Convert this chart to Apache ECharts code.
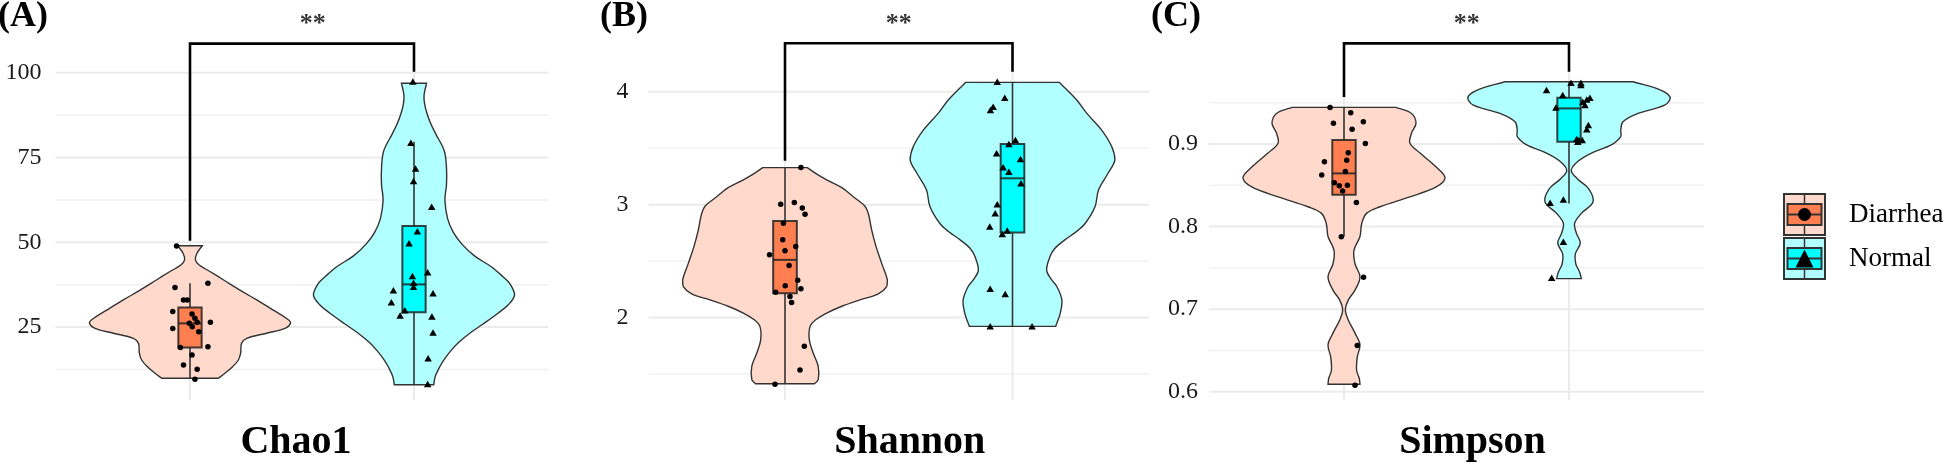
<!DOCTYPE html>
<html><head><meta charset="utf-8">
<script src="https://cdn.jsdelivr.net/npm/echarts@6/dist/echarts.min.js"></script>
<style>html,body{margin:0;padding:0;background:#fff}#c{width:1945px;height:468px}</style>
</head><body><div id="c"></div>
<script>
// ---------- data ----------
const groups = ['Diarrhea', 'Normal'];
const metrics = ['Chao1', 'Shannon', 'Simpson'];
const panelTags = ['(A)', '(B)', '(C)'];
const sigText = '**';

// Chao1
const chao1Ticks = [25, 50, 75, 100];
const chao1Minor = [12.5, 37.5, 62.5, 87.5];
const chao1DiarrheaPts = [[0.940,48.9],[0.933,36.7],[1.080,37.9],[0.971,33.0],[0.988,33.0],[0.923,29.6],[1.009,28.9],[1.022,27.6],[1.091,26.4],[0.997,26.1],[1.032,26.4],[1.010,25.1],[1.039,23.6],[0.923,24.6],[0.957,19.0],[1.080,19.2],[1.009,16.8],[0.971,13.8],[1.032,12.6],[1.022,9.6]];
const chao1NormalPts = [[1.995,97.4],[1.986,79.4],[2.007,71.8],[1.998,68.1],[2.079,60.5],[2.015,53.3],[1.978,49.7],[2.061,41.2],[1.993,40.1],[1.998,38.1],[1.998,36.9],[1.908,35.9],[2.085,35.0],[1.899,32.3],[1.959,30.0],[1.938,28.4],[2.080,28.1],[2.085,23.4],[2.063,15.8],[2.061,8.2]];
const chao1DiarrheaBox = [9.9, 19.0, 26.1, 30.8, 37.9];
const chao1NormalBox = [8.0, 29.4, 37.6, 54.8, 79.7];
const chao1DiarrheaViolin = [[49.0,0.055],[46.8,0.031],[44.8,0.024],[43.3,0.041],[41.4,0.089],[38.9,0.15],[35.9,0.223],[33.0,0.298],[30.0,0.372],[27.6,0.43],[26.3,0.449],[24.6,0.424],[23.2,0.342],[21.7,0.253],[20.2,0.23],[17.3,0.226],[15.3,0.216],[13.3,0.19],[11.4,0.156],[9.9,0.126]];
const chao1NormalViolin = [[96.9,0.056],[93.5,0.045],[91,0.047],[88,0.058],[85,0.075],[82,0.097],[77,0.135],[72,0.145],[67,0.145],[62.5,0.138],[57,0.15],[53,0.175],[49.7,0.211],[46,0.27],[42.8,0.345],[40,0.395],[37.9,0.427],[34.5,0.449],[31.5,0.42],[29.1,0.375],[26,0.31],[23.2,0.249],[20.5,0.2],[18.2,0.167],[15.5,0.135],[13.3,0.115],[10.5,0.095],[8.0,0.088]];
const chao1Bracket = [[1,50.5],[1,108.6],[2,108.6],[2,100.3]];
const chao1SigPos = [1.548, 114.4];

// Shannon
const shannonTicks = [2, 3, 4];
const shannonMinor = [1.5, 2.5, 3.5];
const shannonDiarrheaPts = [[1.070,3.328],[0.981,3.003],[1.041,3.018],[1.076,2.971],[1.088,2.915],[0.993,2.835],[0.990,2.688],[1.000,2.591],[1.047,2.629],[0.932,2.557],[1.018,2.461],[1.056,2.331],[1.001,2.281],[1.070,2.255],[0.959,2.225],[1.022,2.187],[1.029,2.134],[1.085,1.745],[1.066,1.535],[0.956,1.409]];
const shannonNormalPts = [[1.933,4.088],[1.966,3.947],[1.915,3.867],[1.903,3.838],[2.013,3.573],[1.984,3.537],[1.930,3.455],[2.035,3.404],[1.959,3.331],[1.984,3.292],[2.037,3.189],[1.933,3.004],[1.924,2.924],[1.900,2.806],[1.977,2.771],[1.955,2.741],[1.902,2.255],[1.968,2.208],[1.902,1.922],[2.086,1.922]];
const shannonDiarrheaBox = [1.414, 2.216, 2.511, 2.856, 3.328];
const shannonNormalBox = [1.922, 2.753, 3.233, 3.537, 4.083];
const shannonDiarrheaViolin = [[3.328,0.098],[3.27,0.14],[3.22,0.183],[3.15,0.25],[3.07,0.30],[2.99,0.35],[2.924,0.366],[2.777,0.381],[2.63,0.40],[2.48,0.425],[2.334,0.45],[2.275,0.447],[2.21,0.41],[2.157,0.33],[2.10,0.25],[2.04,0.183],[1.98,0.135],[1.92,0.11],[1.80,0.107],[1.686,0.124],[1.568,0.146],[1.45,0.146],[1.414,0.129]];
const shannonNormalViolin = [[4.083,0.205],[4.015,0.24],[3.92,0.285],[3.81,0.326],[3.66,0.392],[3.514,0.436],[3.396,0.45],[3.278,0.42],[3.13,0.378],[2.983,0.363],[2.835,0.32],[2.76,0.28],[2.688,0.23],[2.61,0.185],[2.54,0.165],[2.42,0.15],[2.34,0.17],[2.275,0.195],[2.157,0.217],[2.04,0.21],[1.922,0.19]];
const shannonBracket = [[1,3.389],[1,4.429],[2,4.429],[2,4.177]];
const shannonSigPos = [1.5, 4.600];

// Simpson
const simpsonTicks = [0.6, 0.7, 0.8, 0.9];
const simpsonMinor = [0.65, 0.75, 0.85, 0.95];
const simpsonDiarrheaPts = [[0.938,0.9443],[1.030,0.9379],[0.953,0.925],[1.086,0.927],[1.036,0.918],[1.095,0.9007],[1.019,0.8894],[0.913,0.8785],[1.012,0.8802],[0.901,0.8624],[1.006,0.8668],[0.957,0.8531],[0.979,0.8495],[1.015,0.8499],[0.994,0.843],[1.055,0.8293],[0.988,0.7877],[1.087,0.7385],[1.059,0.6561],[1.049,0.608]];
const simpsonNormalPts = [[2.009,0.9742],[2.053,0.9742],[2.053,0.9714],[1.900,0.9653],[1.972,0.9593],[2.093,0.9561],[2.079,0.954],[2.061,0.9512],[1.942,0.9443],[2.071,0.9472],[2.086,0.923],[2.079,0.918],[2.034,0.906],[2.039,0.9028],[2.059,0.9048],[2.044,0.9048],[1.916,0.8289],[1.975,0.8329],[1.975,0.7817],[1.923,0.738]];
const simpsonDiarrheaBox = [0.788, 0.8386, 0.8644, 0.9048, 0.9443];
const simpsonNormalBox = [0.828, 0.9028, 0.9431, 0.956, 0.975];
const simpsonDiarrheaViolin = [[0.9443,0.23],[0.937,0.30],[0.925,0.32],[0.913,0.30],[0.901,0.293],[0.889,0.338],[0.872,0.41],[0.859,0.449],[0.848,0.41],[0.836,0.293],[0.824,0.16],[0.816,0.10],[0.804,0.079],[0.788,0.071],[0.771,0.044],[0.755,0.049],[0.739,0.071],[0.723,0.049],[0.711,0.019],[0.699,0.006],[0.687,0.019],[0.671,0.049],[0.657,0.071],[0.642,0.059],[0.626,0.056],[0.616,0.068],[0.609,0.071]];
const simpsonNormalViolin = [[0.9754,0.285],[0.965,0.41],[0.956,0.45],[0.947,0.425],[0.937,0.307],[0.927,0.24],[0.917,0.23],[0.909,0.23],[0.899,0.188],[0.889,0.10],[0.879,0.04],[0.868,0.01],[0.858,0.037],[0.846,0.087],[0.830,0.107],[0.816,0.055],[0.804,0.025],[0.792,0.033],[0.780,0.05],[0.767,0.028],[0.755,0.030],[0.745,0.047],[0.737,0.055]];
const simpsonBracket = [[1,0.9569],[1,1.0219],[2,1.0219],[2,0.9876]];
const simpsonSigPos = [1.545, 1.0453];

// ---------- styles / layout ----------
const SERIF = 'Liberation Serif';
const VIOLIN_FILL = ['#FFD9CB', '#B2FFFF'];
const BOX_FILL = ['#FF7F50', '#00FFFF'];
const BOX_HALF = 0.052;
const OUTLINE = '#333333';

const panels = [
  {metric: metrics[0], tag: panelTags[0], ticks: chao1Ticks, minor: chao1Minor,
   violins: [chao1DiarrheaViolin, chao1NormalViolin], boxes: [chao1DiarrheaBox, chao1NormalBox],
   pts: [chao1DiarrheaPts, chao1NormalPts], bracket: chao1Bracket, sig: chao1SigPos,
   lay: {left: 55.6, width: 492.8, ymin: 3.5, ymax: 102.3, margin: 14, namePad: [0, 12, 0, 0], tagLeft: -2}},
  {metric: metrics[1], tag: panelTags[1], ticks: shannonTicks, minor: shannonMinor,
   violins: [shannonDiarrheaViolin, shannonNormalViolin], boxes: [shannonDiarrheaBox, shannonNormalBox],
   pts: [shannonDiarrheaPts, shannonNormalPts], bracket: shannonBracket, sig: shannonSigPos,
   lay: {left: 648.5, width: 500.5, ymin: 1.27, ymax: 4.2365, margin: 20, namePad: [0, 0, 0, 22], tagLeft: 600}},
  {metric: metrics[2], tag: panelTags[2], ticks: simpsonTicks, minor: simpsonMinor,
   violins: [simpsonDiarrheaViolin, simpsonNormalViolin], boxes: [simpsonDiarrheaBox, simpsonNormalBox],
   pts: [simpsonDiarrheaPts, simpsonNormalPts], bracket: simpsonBracket, sig: simpsonSigPos,
   lay: {left: 1209, width: 495, ymin: 0.59, ymax: 0.99566, margin: 11, namePad: [0, 0, 0, 32], tagLeft: 1151}}
];

function keySvg(bg, box, marker) {
  const s = "<svg xmlns='http://www.w3.org/2000/svg' width='61' height='43' viewBox='0 0 61 43'>" +
    "<rect x='1' y='1' width='41' height='41' fill='" + bg + "' stroke='#333' stroke-width='2'/>" +
    "<line x1='21.5' y1='2' x2='21.5' y2='41' stroke='#333' stroke-width='1.5'/>" +
    "<rect x='4.5' y='11' width='34' height='21' fill='" + box + "' stroke='#333' stroke-width='2'/>" +
    "<line x1='4.5' y1='21.5' x2='38.5' y2='21.5' stroke='#333' stroke-width='2'/>" +
    marker + "</svg>";
  return 'image://data:image/svg+xml;charset=utf-8,' + encodeURIComponent(s);
}
const keyMarkers = ["<circle cx='21.5' cy='21.5' r='6.5' fill='#000'/>",
                    "<polygon points='21.5,12.5 12.5,30.5 30.5,30.5' fill='#000'/>"];

const grids = [], xAxes = [], yAxes = [], series = [], titles = [];

panels.forEach((p, i) => {
  const L = p.lay;
  grids.push({left: L.left, width: L.width, top: 65, bottom: 68});
  xAxes.push({
    type: 'value', gridIndex: i, min: 0.4, max: 2.6,
    axisLine: {show: false}, axisTick: {show: false}, axisLabel: {show: false}, splitLine: {show: false},
    name: p.metric, nameLocation: 'middle', nameGap: 23,
    nameTextStyle: {fontFamily: SERIF, fontWeight: 'bold', fontSize: 40, color: '#000', padding: L.namePad}
  });
  yAxes.push({
    type: 'value', gridIndex: i, min: L.ymin, max: L.ymax,
    axisLine: {show: false}, axisTick: {show: false}, splitLine: {show: false},
    axisLabel: {customValues: p.ticks, fontFamily: SERIF, fontSize: 24, color: '#1a1a1a', margin: L.margin}
  });
  titles.push({text: p.tag, left: L.tagLeft, top: -1, padding: 0,
    textStyle: {fontFamily: SERIF, fontWeight: 'bold', fontSize: 36, color: '#000'}});

  // horizontal gridlines
  const hData = p.ticks.map(v => [1, v, 1]).concat(p.minor.map(v => [1, v, 0]));
  series.push({
    type: 'custom', xAxisIndex: i, yAxisIndex: i, z: 0, silent: true, data: hData,
    renderItem: function (params, api) {
      const cs = params.coordSys;
      const y = api.coord([1, api.value(1)])[1];
      return {type: 'line', shape: {x1: cs.x, y1: y, x2: cs.x + cs.width, y2: y},
        style: {stroke: api.value(2) ? '#EBEBEB' : '#F0F0F0', lineWidth: api.value(2) ? 2 : 1.4}};
    }
  });
  // vertical gridlines at categories
  series.push({
    type: 'custom', xAxisIndex: i, yAxisIndex: i, z: 0, silent: true,
    data: groups.map((g, k) => [k + 1, L.ymin]),
    renderItem: function (params, api) {
      const cs = params.coordSys;
      const x = api.coord([api.value(0), api.value(1)])[0];
      return {type: 'line', shape: {x1: x, y1: cs.y, x2: x, y2: cs.y + cs.height},
        style: {stroke: '#EBEBEB', lineWidth: 2}};
    }
  });

  groups.forEach((g, k) => {
    const center = k + 1;
    const vData = p.violins[k].map(r => [center, r[0], r[1]]);
    // violin
    series.push({
      type: 'custom', name: g, xAxisIndex: i, yAxisIndex: i, z: 2, silent: true,
      data: vData,
      renderItem: function (params, api) {
        if (params.dataIndexInside !== 0) return null;
        const n = vData.length;
        const left = [], right = [];
        for (let j = 0; j < n; j++) {
          const c = api.value(0, j), y = api.value(1, j), w = api.value(2, j);
          left.push(api.coord([c - w, y]));
          right.push(api.coord([c + w, y]));
        }
        // duplicate the corner points so the flat ends stay sharp
        const lft = [left[0]].concat(left, [left[n - 1]]);
        const rgt = [right[n - 1]].concat(right.slice().reverse(), [right[0]]);
        const pts = lft.concat(rgt);
        let x0 = Infinity, y0 = Infinity, x1 = -Infinity, y1 = -Infinity;
        pts.forEach(q => { x0 = Math.min(x0, q[0]); x1 = Math.max(x1, q[0]); y0 = Math.min(y0, q[1]); y1 = Math.max(y1, q[1]); });
        return {type: 'polygon', shape: {points: pts, smooth: 0.35, smoothConstraint: [[x0, y0], [x1, y1]]},
          style: {fill: VIOLIN_FILL[k], stroke: OUTLINE, lineWidth: 1.4}};
      }
    });
    // boxplot
    series.push({
      type: 'custom', name: g, xAxisIndex: i, yAxisIndex: i, z: 3, silent: true,
      data: [[center].concat(p.boxes[k])],
      renderItem: function (params, api) {
        const c = api.value(0);
        const pLo = api.coord([c, api.value(1)]), pQ1 = api.coord([c, api.value(2)]);
        const pMd = api.coord([c, api.value(3)]), pQ3 = api.coord([c, api.value(4)]);
        const pHi = api.coord([c, api.value(5)]);
        const xl = api.coord([c - BOX_HALF, api.value(3)])[0];
        const xr = api.coord([c + BOX_HALF, api.value(3)])[0];
        const st = {stroke: OUTLINE, lineWidth: 1.6};
        return {type: 'group', children: [
          {type: 'line', shape: {x1: pLo[0], y1: pLo[1], x2: pQ1[0], y2: pQ1[1]}, style: st},
          {type: 'line', shape: {x1: pQ3[0], y1: pQ3[1], x2: pHi[0], y2: pHi[1]}, style: st},
          {type: 'rect', shape: {x: xl, y: pQ3[1], width: xr - xl, height: pQ1[1] - pQ3[1]},
            style: {fill: BOX_FILL[k], stroke: 'rgba(34,34,34,0.85)', lineWidth: 2}},
          {type: 'line', shape: {x1: xl, y1: pMd[1], x2: xr, y2: pMd[1]},
            style: {stroke: 'rgba(34,34,34,0.85)', lineWidth: 2}}
        ]};
      }
    });
    // points
    series.push({
      type: 'scatter', name: g, xAxisIndex: i, yAxisIndex: i, z: 4, silent: true,
      symbol: k === 0 ? 'circle' : 'triangle', symbolSize: k === 0 ? 5.5 : [7.5, 6.5],
      itemStyle: {color: '#000', opacity: 1}, data: p.pts[k]
    });
  });

  // significance bracket
  series.push({
    type: 'line', xAxisIndex: i, yAxisIndex: i, z: 5, silent: true, clip: false,
    symbol: 'none', data: p.bracket, lineStyle: {color: '#000', width: 2.6, join: 'miter'}
  });
  series.push({
    type: 'scatter', xAxisIndex: i, yAxisIndex: i, z: 5, silent: true, clip: false,
    symbolSize: 0, data: [p.sig],
    label: {show: true, position: 'inside', formatter: () => sigText,
      fontFamily: SERIF, fontWeight: 'bold', fontSize: 26, color: '#000'}
  });
});

const chart = echarts.init(document.getElementById('c'), null, {renderer: 'canvas'});
chart.setOption({
  animation: false,
  backgroundColor: '#ffffff',
  title: titles,
  grid: grids,
  xAxis: xAxes,
  yAxis: yAxes,
  legend: {
    orient: 'vertical', left: 1783, top: 193, padding: 0, itemWidth: 61, itemHeight: 43, itemGap: 1,
    selectedMode: false,
    textStyle: {fontFamily: SERIF, fontSize: 27, color: '#000'},
    data: groups.map((g, k) => ({name: g, icon: keySvg(VIOLIN_FILL[k], BOX_FILL[k], keyMarkers[k])}))
  },
  series: series
});
</script></body></html>
